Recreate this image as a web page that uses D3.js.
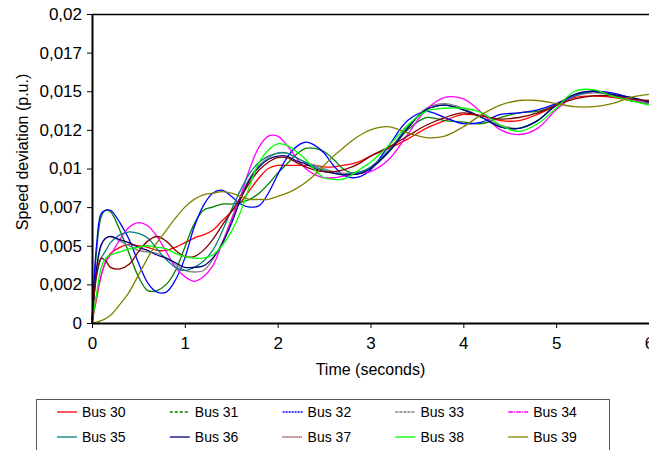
<!DOCTYPE html>
<html>
<head>
<meta charset="utf-8">
<script src="https://cdn.jsdelivr.net/npm/d3@7"></script>
<style>
  body { margin: 0; background: #fff; }
  svg { display: block; font-family: "Liberation Sans", Arial, sans-serif; }
</style>
</head>
<body>
<script>

// sample times (seconds)
var times = [0, 0.05, 0.1, 0.15, 0.2,
  0.3, 0.4, 0.5, 0.6, 0.7, 0.8, 0.9, 1.0, 1.1, 1.2, 1.3, 1.4, 1.5, 1.6, 1.7, 1.8, 1.9,
  2.0, 2.1, 2.2, 2.3, 2.4, 2.5, 2.6, 2.7, 2.8, 2.9,
  3.0, 3.2, 3.4, 3.6, 3.8, 4.0, 4.2, 4.4, 4.6, 4.8, 5.0, 5.2, 5.4, 5.6, 5.8, 6.0];

var busNames = ["Bus 30", "Bus 31", "Bus 32", "Bus 33", "Bus 34",
                "Bus 35", "Bus 36", "Bus 37", "Bus 38", "Bus 39"];

var bus30 = [0, .0016, .0031, .0040, .0045,
  .0049, .0051, .0050, .0049, .0047, .0047, .0049, .0052, .0055, .0057, .0060, .0066, .0072, .0078, .0086, .0094, .0100,
  .0102, .0102, .0102, .0102, .0102, .0101, .0101, .0102, .0103, .0105,
  .0108, .0113, .0119, .0126, .0131, .0135, .0134, .0131, .0131, .0135, .0141, .0146, .0147, .0146, .0144, .0142];
var bus31 = [0, .0047, .0069, .0073, .0072,
  .0060, .0045, .0030, .0021, .0021, .0025, .0034, .0049, .0064, .0073, .0075, .0077, .0077, .0078, .0080, .0084, .0090,
  .0097, .0103, .0109, .0113, .0113, .0111, .0106, .0100, .0097, .0097,
  .0100, .0111, .0125, .0133, .0131, .0130, .0129, .0133, .0136, .0137, .0141, .0147, .0150, .0147, .0144, .0142];
var bus32 = [0, .0051, .0071, .0073, .0073,
  .0065, .0054, .0039, .0026, .0020, .0020, .0028, .0042, .0062, .0076, .0084, .0086, .0082, .0077, .0075, .0076, .0084,
  .0096, .0107, .0114, .0117, .0115, .0110, .0102, .0096, .0094, .0095,
  .0099, .0115, .0131, .0137, .0133, .0129, .0130, .0135, .0136, .0138, .0142, .0147, .0150, .0149, .0146, .0143];
var bus33 = [0, .0034, .0050, .0055, .0056,
  .0053, .0050, .0047, .0046, .0045, .0042, .0038, .0034, .0033, .0034, .0041, .0052, .0067, .0082, .0094, .0102, .0107,
  .0110, .0110, .0107, .0104, .0102, .0100, .0098, .0097, .0097, .0098,
  .0100, .0111, .0126, .0139, .0142, .0139, .0133, .0128, .0126, .0131, .0141, .0147, .0149, .0148, .0145, .0142];
var bus34 = [0, .0018, .0031, .0040, .0044,
  .0054, .0062, .0065, .0063, .0056, .0046, .0036, .0030, .0027, .0030, .0037, .0051, .0066, .0082, .0100, .0114, .0121,
  .0121, .0115, .0107, .0100, .0096, .0094, .0094, .0095, .0096, .0097,
  .0098, .0106, .0122, .0138, .0146, .0145, .0136, .0125, .0122, .0126, .0138, .0147, .0150, .0148, .0145, .0143];
var bus35 = [0, .0031, .0042, .0047, .0052,
  .0057, .0059, .0058, .0055, .0048, .0041, .0036, .0034, .0036, .0040, .0047, .0059, .0073, .0086, .0097, .0104, .0108,
  .0110, .0110, .0107, .0104, .0101, .0099, .0097, .0096, .0097, .0098,
  .0101, .0112, .0127, .0138, .0141, .0138, .0133, .0127, .0126, .0131, .0141, .0147, .0150, .0148, .0146, .0143];
var bus36 = [0, .0036, .0051, .0055, .0056,
  .0054, .0052, .0049, .0047, .0044, .0042, .0039, .0036, .0036, .0037, .0042, .0051, .0064, .0080, .0093, .0101, .0106,
  .0108, .0108, .0105, .0103, .0100, .0098, .0097, .0096, .0096, .0097,
  .0100, .0111, .0126, .0138, .0141, .0138, .0133, .0127, .0126, .0131, .0141, .0148, .0150, .0148, .0146, .0143];
var bus37 = [0, .0031, .0042, .0040, .0036,
  .0035, .0038, .0046, .0053, .0056, .0053, .0047, .0043, .0043, .0047, .0054, .0063, .0072, .0081, .0091, .0099, .0104,
  .0107, .0107, .0104, .0101, .0099, .0098, .0098, .0099, .0101, .0104,
  .0108, .0114, .0121, .0128, .0133, .0136, .0134, .0132, .0133, .0136, .0141, .0145, .0147, .0147, .0145, .0144];
var bus38 = [0, .0019, .0036, .0042, .0044,
  .0046, .0048, .0049, .0050, .0049, .0048, .0045, .0043, .0042, .0042, .0044, .0050, .0059, .0072, .0089, .0104, .0112,
  .0116, .0115, .0111, .0106, .0099, .0094, .0093, .0093, .0096, .0100,
  .0104, .0115, .0128, .0137, .0139, .0139, .0136, .0128, .0124, .0129, .0139, .0150, .0151, .0147, .0144, .0141];
var bus39 = [0, .00005, .00015, .0003, .0005,
  .0012, .0020, .0031, .0042, .0052, .0060, .0068, .0075, .0080, .0083, .0084, .0085, .0084, .0082, .0080, .0080, .0080,
  .0082, .0084, .0087, .0091, .0096, .0102, .0108, .0113, .0118, .0122,
  .0125, .0127, .0123, .0120, .0121, .0127, .0135, .0141, .0144, .0144, .0142, .0140, .0140, .0142, .0146, .0148];

var xTicks = [0, 1, 2, 3, 4, 5, 6];
var yTicks = [0, 0.0025, 0.005, 0.0075, 0.01, 0.0125, 0.015, 0.0175, 0.02];
var yTickLabels = ["0", "0,002", "0,005", "0,007", "0,01", "0,012", "0,015", "0,017", "0,02"];

var colors = ["#ff0000", "#008000", "#0000ff", "#808080", "#ff00ff",
              "#008080", "#000080", "#800000", "#00ff00", "#808000"];
var dashes = [null, "3,2", "2,1", "3,1", "5,1,1,1", null, null, "1,1", null, null];

var series = [bus30, bus31, bus32, bus33, bus34, bus35, bus36, bus37, bus38, bus39];

var margin = {top: 14, right: 0, bottom: 127, left: 92},
    width = 649 - margin.left - margin.right,
    height = 450 - margin.top - margin.bottom;

var x = d3.scaleLinear().domain([0, 6]).range([0, width]);
var y = d3.scaleLinear().domain([0, 0.02]).range([height, 0]);

var root = d3.select("body").append("svg")
    .attr("width", 649)
    .attr("height", 450);

var svg = root.append("g")
    .attr("transform", "translate(" + margin.left + "," + margin.top + ")");

// top border of plot area
svg.append("line")
    .attr("x1", 0).attr("x2", width)
    .attr("y1", 0.5).attr("y2", 0.5)
    .attr("stroke", "#000")
    .attr("stroke-width", 1.5);

var line = d3.line()
    .x(function(d) { return x(d[0]); })
    .y(function(d) { return y(d[1]); })
    .curve(d3.curveCatmullRom.alpha(0.5));

series.forEach(function(vals, i) {
  var pts = times.map(function(t, j) { return [t, vals[j]]; });
  svg.append("path")
      .datum(pts)
      .attr("fill", "none")
      .attr("stroke", colors[i])
      .attr("stroke-width", 1.3)
      .attr("d", line);
});

var xAxis = svg.append("g")
    .attr("transform", "translate(0," + height + ")")
    .call(d3.axisBottom(x).tickValues(xTicks).tickFormat(d3.format("d"))
          .tickSize(5).tickSizeOuter(0).tickPadding(9));

var yAxis = svg.append("g")
    .call(d3.axisLeft(y).tickValues(yTicks)
          .tickFormat(function(d, i) { return yTickLabels[i]; })
          .tickSize(5).tickSizeOuter(0).tickPadding(5));

[xAxis, yAxis].forEach(function(a) {
  a.select(".domain").attr("stroke-width", 2);
  a.selectAll("text").attr("font-size", "17px").attr("fill", "#000")
      .attr("font-family", "'Liberation Sans', Arial, sans-serif");
});

root.append("text")
    .attr("x", margin.left + x(3))
    .attr("y", 375)
    .style("text-anchor", "middle")
    .attr("font-size", "16px")
    .text("Time (seconds)");

root.append("text")
    .attr("transform", "translate(22,152) rotate(-90)")
    .attr("dy", "0.35em")
    .style("text-anchor", "middle")
    .attr("font-size", "16px")
    .text("Speed deviation (p.u.)");

// legend
var legend = root.append("g");
legend.append("rect")
    .attr("x", 36.5).attr("y", 399.5)
    .attr("width", 573).attr("height", 70)
    .attr("fill", "#fff")
    .attr("stroke", "#555")
    .attr("stroke-width", 1);

busNames.forEach(function(name, i) {
  var col = i % 5, row = Math.floor(i / 5);
  var lx = 57 + col * 112.8, ly = 412 + row * 25;
  legend.append("line")
      .attr("x1", lx).attr("x2", lx + 20)
      .attr("y1", ly).attr("y2", ly)
      .attr("stroke", colors[i])
      .attr("stroke-width", 1.3)
      .attr("stroke-dasharray", dashes[i]);
  legend.append("text")
      .attr("x", lx + 25)
      .attr("y", ly)
      .attr("dy", "0.35em")
      .attr("font-size", "14px")
      .text(name);
});

</script>
</body>
</html>
